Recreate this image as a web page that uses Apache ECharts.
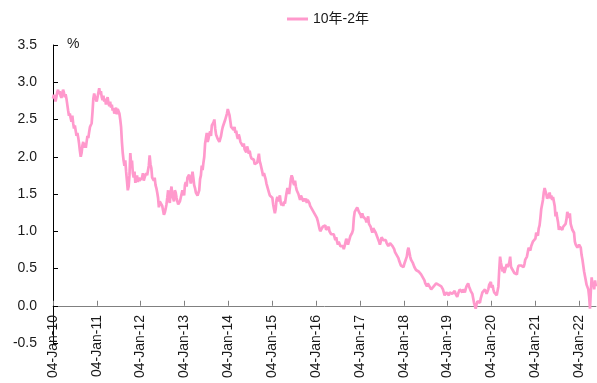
<!DOCTYPE html>
<html>
<head>
<meta charset="utf-8">
<script src="https://cdn.jsdelivr.net/npm/echarts@6/dist/echarts.min.js"></script>
<style>
  html, body { margin: 0; padding: 0; background: #fff; }
  #chart { width: 597px; height: 383px; }
</style>
</head>
<body>
<div id="chart"></div>
<script>
// 10-year minus 2-year yield spread (%), weekly readings (Monday of each week)
const seriesName = '10年-2年';

const y2010 = [2.78,2.83,2.80,2.74, 2.80,2.86,2.90,2.84, 2.88,2.82,2.79,2.85,2.90, 2.86,2.80,2.84,2.78, 2.70,2.62,2.55,2.58,2.52, 2.47,2.55,2.45,2.38, 2.42,2.35,2.28,2.32, 2.26,2.18,2.08,2.00,2.05, 2.15,2.20,2.12,2.18, 2.12,2.20,2.28,2.25, 2.33,2.40,2.42,2.45,2.60, 2.78,2.85,2.80,2.78];
const y2011 = [2.74,2.80,2.86,2.92,2.84, 2.88,2.80,2.76,2.82, 2.74,2.78,2.70,2.76, 2.80,2.72,2.68,2.74, 2.66,2.70,2.62,2.65,2.58, 2.62,2.66,2.57,2.64, 2.62,2.58,2.50,2.40, 2.20,2.05,1.95,1.88,1.95, 1.80,1.68,1.55,1.60, 1.75,2.05,1.90,1.95,1.78, 1.72,1.80,1.65,1.70, 1.75,1.66,1.72,1.68];
const y2012 = [1.70,1.66,1.72,1.78,1.68, 1.72,1.70,1.78,1.75, 1.76,1.88,2.02,1.90, 1.85,1.72,1.70,1.68,1.72, 1.62,1.58,1.52,1.45, 1.32,1.40,1.42,1.38, 1.34,1.28,1.22,1.25,1.30, 1.36,1.45,1.55,1.42, 1.38,1.52,1.60,1.48, 1.44,1.40,1.55,1.52,1.45, 1.40,1.36,1.38,1.40, 1.38,1.42,1.55,1.52,1.48];
const y2013 = [1.62,1.66,1.60,1.72, 1.74,1.76,1.70,1.64, 1.70,1.80,1.72,1.62, 1.58,1.52,1.50,1.48,1.46, 1.55,1.70,1.75,1.88, 1.82,1.92,2.00,2.18, 2.25,2.32,2.20,2.24,2.30, 2.34,2.28,2.42,2.40, 2.46,2.50,2.38,2.30,2.28, 2.24,2.22,2.20,2.18, 2.28,2.35,2.40,2.38, 2.42,2.50,2.48,2.58,2.64];
const y2014 = [2.62,2.56,2.48,2.40, 2.38,2.42,2.36,2.40, 2.32,2.35,2.28,2.24,2.30, 2.26,2.20,2.22,2.18, 2.14,2.18,2.10,2.12, 2.06,2.14,2.10,2.04,2.08, 2.02,1.98,1.96,2.00, 1.96,1.90,1.92,1.88, 1.92,1.98,2.04,1.94,1.90, 1.88,1.80,1.74,1.78, 1.78,1.70,1.64,1.60, 1.58,1.52,1.48,1.50,1.46];
const y2015 = [1.45,1.36,1.30,1.24, 1.30,1.42,1.46,1.40, 1.44,1.48,1.38,1.35,1.38, 1.34,1.40,1.37,1.45, 1.52,1.58,1.54,1.50, 1.60,1.70,1.75,1.72,1.65, 1.62,1.68,1.60,1.55, 1.54,1.50,1.46,1.42,1.48, 1.50,1.46,1.40,1.44, 1.40,1.44,1.38,1.42, 1.44,1.38,1.34,1.32,1.30, 1.28,1.26,1.24,1.22];
const y2016 = [1.22,1.18,1.14,1.12, 1.04,1.00,0.98,1.02,1.06, 1.08,1.04,1.08,1.02, 1.00,1.02,1.06,1.00, 0.98,0.96,0.94,0.98,0.96, 0.92,0.88,0.92,0.86, 0.82,0.86,0.84,0.80, 0.82,0.78,0.80,0.76,0.80, 0.82,0.90,0.88,0.82, 0.84,0.90,0.94,0.96,0.98, 1.02,1.18,1.26,1.28, 1.24,1.32,1.30,1.26];
const y2017 = [1.28,1.22,1.18,1.24,1.20, 1.18,1.22,1.16,1.12, 1.14,1.20,1.10,1.12, 1.06,1.02,0.98,1.04, 1.02,1.06,0.98,0.96,0.92, 0.90,0.86,0.82,0.86, 0.92,0.94,0.88,0.90,0.86, 0.88,0.84,0.82,0.80, 0.80,0.84,0.86,0.82, 0.80,0.78,0.76,0.72,0.70, 0.68,0.66,0.64,0.60, 0.58,0.54,0.56,0.52];
const y2018 = [0.52,0.56,0.54,0.58,0.66, 0.74,0.78,0.72,0.66, 0.62,0.60,0.58,0.55, 0.52,0.50,0.48,0.46,0.50, 0.46,0.44,0.48,0.42, 0.42,0.38,0.36,0.34, 0.30,0.28,0.26,0.30,0.28, 0.26,0.24,0.22,0.24, 0.22,0.26,0.28,0.26, 0.30,0.32,0.30,0.28,0.30, 0.28,0.26,0.24,0.22, 0.18,0.14,0.16,0.18,0.20];
const y2019 = [0.16,0.14,0.18,0.16, 0.18,0.16,0.14,0.18, 0.20,0.16,0.14,0.12, 0.16,0.18,0.22,0.20,0.20, 0.18,0.22,0.20,0.18, 0.20,0.26,0.28,0.30, 0.26,0.24,0.20,0.22,0.16, 0.10,0.04,0.00,-0.04, 0.02,0.06,0.08,0.06,0.04, 0.10,0.14,0.18,0.16, 0.18,0.22,0.20,0.16, 0.18,0.22,0.28,0.30,0.32];
const y2020 = [0.24,0.28,0.22,0.18, 0.20,0.16,0.14,0.12, 0.26,0.48,0.66,0.58,0.52, 0.46,0.52,0.44,0.48, 0.50,0.56,0.52,0.50, 0.58,0.66,0.52,0.50,0.48, 0.46,0.44,0.42,0.44, 0.42,0.50,0.54,0.52,0.56, 0.54,0.52,0.54,0.52, 0.56,0.62,0.64,0.66, 0.72,0.78,0.76,0.74,0.80, 0.82,0.86,0.84,0.88];
const y2021 = [0.90,0.98,0.96,0.94, 1.04,1.08,1.18,1.30, 1.36,1.42,1.52,1.58,1.56, 1.50,1.44,1.46,1.48, 1.52,1.44,1.48,1.42,1.46, 1.40,1.34,1.20,1.26, 1.18,1.12,1.02,1.06, 1.06,1.08,1.02,1.06,1.04, 1.08,1.10,1.16,1.26, 1.22,1.18,1.24,1.10, 1.06,1.02,1.04,0.98,0.86, 0.82,0.80,0.78,0.80];
const y2022 = [0.82,0.80,0.78,0.68,0.62, 0.60,0.46,0.40,0.40, 0.28,0.26,0.22,0.12, -0.04,0.20,0.38,0.26, 0.30,0.22,0.34,0.26];

const years = [2010,2011,2012,2013,2014,2015,2016,2017,2018,2019,2020,2021,2022];
const yearValues = [y2010,y2011,y2012,y2013,y2014,y2015,y2016,y2017,y2018,y2019,y2020,y2021,y2022];

// Year ticks on the date axis
const tickDates = ['2010-01-04','2011-01-04','2012-01-04','2013-01-04','2014-01-04','2015-01-04','2016-01-04','2017-01-04','2018-01-04','2019-01-04','2020-01-04','2021-01-04','2022-01-04'];
const tickLabels = ['04-Jan-10','04-Jan-11','04-Jan-12','04-Jan-13','04-Jan-14','04-Jan-15','04-Jan-16','04-Jan-17','04-Jan-18','04-Jan-19','04-Jan-20','04-Jan-21','04-Jan-22'];
const lastDay = '2022-05-24';

const yTicks = { min: -0.5, max: 3.5, step: 0.5 };

function parseDay(s) {
  const p = s.split('-').map(Number);
  return Date.UTC(p[0], p[1] - 1, p[2]);
}

// Each year's readings start on the first Monday of that year
function firstMonday(y) {
  const d = new Date(Date.UTC(y, 0, 1));
  while (d.getUTCDay() !== 1) d.setUTCDate(d.getUTCDate() + 1);
  return d.getTime();
}

const DAY = 86400000;
const points = [];
years.forEach((y, k) => {
  const start = firstMonday(y);
  yearValues[k].forEach((v, i) => {
    points.push([start + 7 * i * DAY, v]);
  });
});

const tickTimes = tickDates.map(parseDay);
const labelByTime = {};
tickTimes.forEach((t, i) => { labelByTime[t] = tickLabels[i]; });

const FONT = '"Liberation Sans", Arial, "Noto Sans CJK SC", sans-serif';
const TEXT = '#1a1a1a';

const chart = echarts.init(document.getElementById('chart'), null, { renderer: 'canvas' });
chart.setOption({
  animation: false,
  backgroundColor: '#ffffff',
  textStyle: { fontFamily: FONT },
  legend: {
    left: 282,
    top: 7,
    itemWidth: 21,
    itemHeight: 3,
    data: [{ name: seriesName, icon: 'rect' }],
    textStyle: { fontSize: 14, color: TEXT, fontFamily: FONT }
  },
  grid: { left: 53, right: 1, top: 45, bottom: 40, containLabel: false, outerBoundsMode: 'none' },
  xAxis: {
    type: 'value',
    min: tickTimes[0],
    max: parseDay(lastDay),
    axisLine: { onZero: true, lineStyle: { color: '#808080', width: 1 } },
    axisTick: { show: true, inside: true, length: 5, customValues: tickTimes, lineStyle: { color: '#808080' } },
    axisLabel: {
      customValues: tickTimes,
      rotate: 90,
      margin: -28,
      fontSize: 14,
      color: TEXT,
      fontFamily: FONT,
      formatter: (val) => labelByTime[val] || ''
    },
    splitLine: { show: false }
  },
  yAxis: {
    type: 'value',
    min: yTicks.min,
    max: yTicks.max,
    interval: yTicks.step,
    axisLine: { show: true, onZero: false, lineStyle: { color: '#000', width: 1 } },
    axisTick: { show: true, inside: true, length: 5, lineStyle: { color: '#000' } },
    axisLabel: {
      margin: 16,
      fontSize: 14,
      color: TEXT,
      fontFamily: FONT,
      formatter: (v) => v.toFixed(1)
    },
    splitLine: { show: false }
  },
  graphic: [{
    type: 'text',
    left: 67,
    top: 37,
    style: { text: '%', fontSize: 14, fill: TEXT, fontFamily: FONT }
  }],
  series: [{
    name: seriesName,
    type: 'line',
    data: points,
    showSymbol: false,
    symbol: 'none',
    lineStyle: { color: '#ff99cc', width: 2.7 },
    itemStyle: { color: '#ff99cc' }
  }]
});
</script>
</body>
</html>
